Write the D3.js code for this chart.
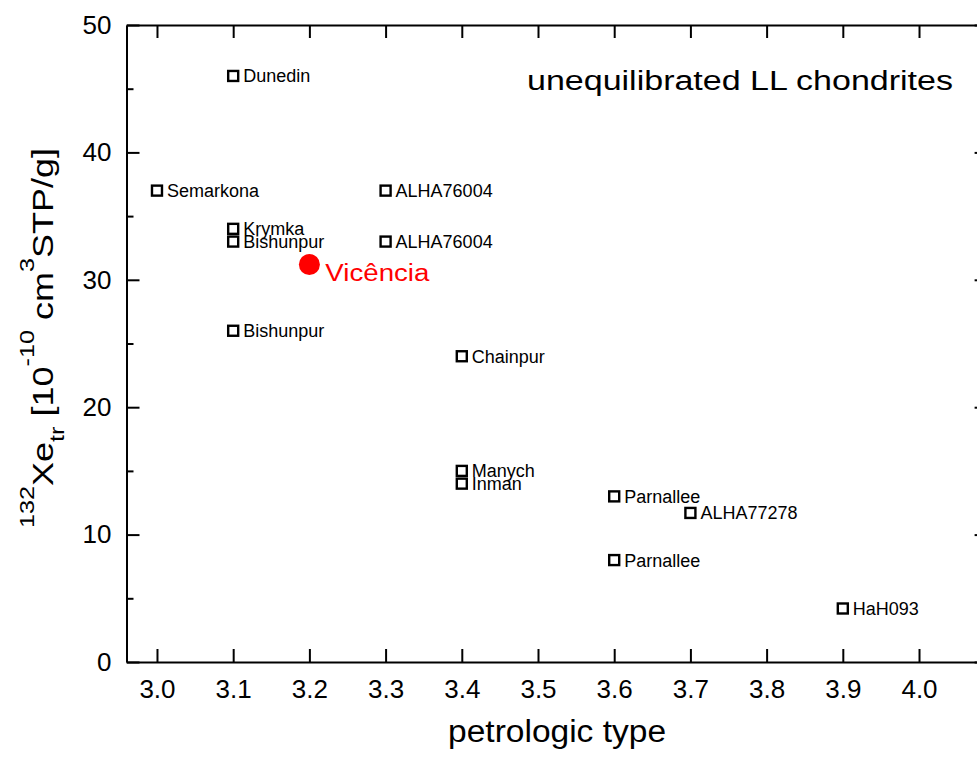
<!DOCTYPE html>
<html>
<head>
<meta charset="utf-8">
<script src="https://cdn.jsdelivr.net/npm/d3@7"></script>
<style>
  html, body { margin: 0; padding: 0; background: #fff; }
  svg { display: block; overflow: hidden; }
  text { font-family: "Liberation Sans", Arial, Helvetica, sans-serif; fill: #000; }
  .axis path, .axis line { stroke: #000; stroke-width: 2; }
</style>
</head>
<body>
<svg id="chart" width="977" height="758"></svg>
<script>
// Trapped 132Xe in unequilibrated LL chondrites vs. petrologic type
const meteoriteNames = ["Dunedin", "Semarkona", "Krymka", "Bishunpur", "ALHA76004", "ALHA76004",
  "Bishunpur", "Chainpur", "Manych", "Inman", "Parnallee", "ALHA77278", "Parnallee", "HaH093"];
const petrologicType = [3.1, 3.0, 3.1, 3.1, 3.3, 3.3, 3.1, 3.4, 3.4, 3.4, 3.6, 3.7, 3.6, 3.9];
const xeTrapped = [46.0, 37.0, 34.0, 33.0, 37.0, 33.0, 26.0, 24.0, 15.0, 14.0, 13.0, 11.7, 8.0, 4.2];

// Vicência, highlighted
const highlightName = ["Vicência"];
const highlightType = [3.2];
const highlightXe = [31.2];

const xTicks = [3.0, 3.1, 3.2, 3.3, 3.4, 3.5, 3.6, 3.7, 3.8, 3.9, 4.0];
const yTicks = [0, 10, 20, 30, 40, 50];
const yMinorTicks = [5, 15, 25, 35, 45];

const svg = d3.select("#chart");

const x = d3.scaleLinear().domain([2.96, 4.09]).range([126.5, 987.6]);
const y = d3.scaleLinear().domain([0, 50]).range([662, 25]);

const [x0, x1] = x.range();
const [yb, yt] = y.range();

// bottom axis with labels, ticks pointing inward
svg.append("g").attr("class", "axis")
  .attr("transform", `translate(0,${yb})`)
  .call(d3.axisBottom(x).tickValues(xTicks).tickSize(-13).tickSizeOuter(0)
    .tickPadding(17.5).tickFormat(d3.format(".1f")))
  .call(g => g.selectAll("text").attr("font-size", 26).attr("font-family", null));

// top axis, ticks only
svg.append("g").attr("class", "axis")
  .attr("transform", `translate(0,${yt})`)
  .call(d3.axisTop(x).tickValues(xTicks).tickSize(-13).tickSizeOuter(0).tickFormat(""));

// left axis with labels
svg.append("g").attr("class", "axis")
  .attr("transform", `translate(${x0},0)`)
  .call(d3.axisLeft(y).tickValues(yTicks).tickSize(-13).tickSizeOuter(0).tickPadding(15))
  .call(g => g.selectAll("text").attr("font-size", 26).attr("font-family", null));
svg.append("g").attr("class", "axis")
  .attr("transform", `translate(${x0},0)`)
  .call(d3.axisLeft(y).tickValues(yMinorTicks).tickSize(-7).tickSizeOuter(0).tickFormat(""))
  .call(g => g.select(".domain").remove());

// right axis, ticks only
svg.append("g").attr("class", "axis")
  .attr("transform", `translate(${x1},0)`)
  .call(d3.axisRight(y).tickValues(yTicks).tickSize(-13).tickSizeOuter(0).tickFormat(""));
svg.append("g").attr("class", "axis")
  .attr("transform", `translate(${x1},0)`)
  .call(d3.axisRight(y).tickValues(yMinorTicks).tickSize(-7).tickSizeOuter(0).tickFormat(""))
  .call(g => g.select(".domain").remove());

svg.selectAll(".axis text").attr("fill", "#000");

// open square markers with labels
const pts = meteoriteNames.map((n, i) => ({ name: n, t: petrologicType[i], xe: xeTrapped[i] }));
const sq = 10;
const pg = svg.append("g");
pg.selectAll("rect").data(pts).join("rect")
  .attr("x", d => x(d.t) - sq / 2)
  .attr("y", d => y(d.xe) - sq / 2)
  .attr("width", sq).attr("height", sq)
  .attr("fill", "#fff").attr("stroke", "#000").attr("stroke-width", 2.4);
pg.selectAll("text").data(pts).join("text")
  .attr("x", d => x(d.t) + 10)
  .attr("y", d => y(d.xe) + 6.5)
  .attr("font-size", 18)
  .text(d => d.name);

// highlighted sample
const hl = highlightName.map((n, i) => ({ name: n, t: highlightType[i], xe: highlightXe[i] }));
const hg = svg.append("g");
hg.selectAll("circle").data(hl).join("circle")
  .attr("cx", d => x(d.t)).attr("cy", d => y(d.xe)).attr("r", 10.5)
  .attr("fill", "#ff0000");
hg.selectAll("text").data(hl).join("text")
  .attr("x", d => x(d.t) + 16)
  .attr("y", d => y(d.xe) + 16)
  .attr("font-size", 23)
  .attr("textLength", 104).attr("lengthAdjust", "spacingAndGlyphs")
  .style("fill", "#ff0000")
  .text(d => d.name);

// panel title
svg.append("text")
  .attr("x", 953).attr("y", 90)
  .attr("text-anchor", "end")
  .attr("font-size", 27)
  .attr("textLength", 426).attr("lengthAdjust", "spacingAndGlyphs")
  .text("unequilibrated LL chondrites");

// x axis title
svg.append("text")
  .attr("x", (x0 + x1) / 2).attr("y", 742)
  .attr("text-anchor", "middle")
  .attr("font-size", 31)
  .attr("textLength", 218).attr("lengthAdjust", "spacingAndGlyphs")
  .text("petrologic type");

// y axis title with super/subscripts
const yt2 = svg.append("g")
  .attr("transform", "translate(53,338) rotate(-90) scale(1.2,1)")
  .append("text")
  .attr("text-anchor", "middle")
  .attr("font-size", 30);
const parts = [
  { s: "132", size: 21, shift: -19 },
  { s: "Xe", size: 30, shift: 0 },
  { s: "tr", size: 21, shift: 11 },
  { s: " [10", size: 30, shift: 0 },
  { s: "-10", size: 21, shift: -19 },
  { s: " cm", size: 30, shift: 0 },
  { s: "3", size: 21, shift: -19 },
  { s: "STP/g]", size: 30, shift: 0 }
];
let prev = 0;
parts.forEach(p => {
  yt2.append("tspan")
    .attr("font-size", p.size)
    .attr("dy", p.shift - prev)
    .text(p.s);
  prev = p.shift;
});
</script>
</body>
</html>
